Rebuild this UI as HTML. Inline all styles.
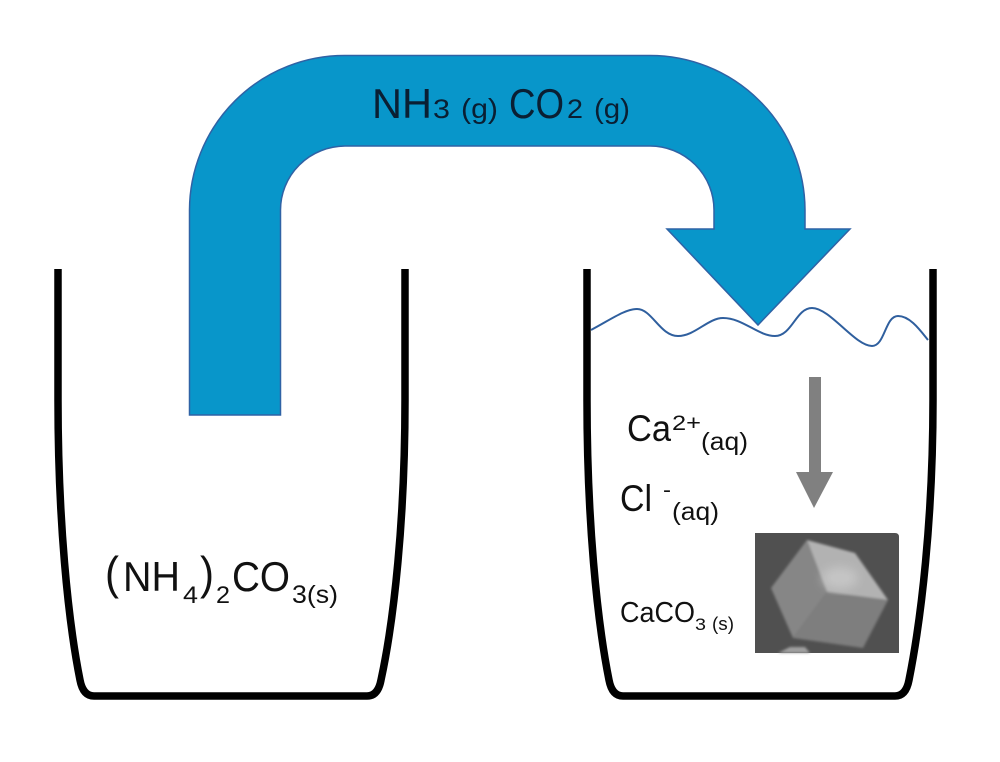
<!DOCTYPE html>
<html><head><meta charset="utf-8"><style>
html,body{margin:0;padding:0;background:#fff;width:1000px;height:762px;overflow:hidden}
svg{display:block}
text{font-family:"Liberation Sans",sans-serif;fill:#111}
</style></head><body>
<svg width="1000" height="762" viewBox="0 0 1000 762" xmlns="http://www.w3.org/2000/svg">
<defs>
<filter id="b" x="-5%" y="-5%" width="110%" height="110%"><feGaussianBlur stdDeviation="1.3"/></filter>
<filter id="b2" x="-30%" y="-30%" width="160%" height="160%"><feGaussianBlur stdDeviation="5"/></filter>
</defs>
<!-- beakers -->
<path d="M58 269 V400 C58 520 68 620 80 680 Q83 696 94 696 H367 Q378 696 381 680 C394 620 405 520 405 400 V269" fill="none" stroke="#000" stroke-width="7.500"/>
<path d="M587 269 V400 C587 520 597 620 609 680 Q612 696 623 696 H895 Q906 696 909 680 C921 620 933 520 933 400 V269" fill="none" stroke="#000" stroke-width="7.500"/>
<!-- wave -->
<path d="M591 330 C610 320 625 309 637 309 C652 309 660 336 678 336 C695 336 708 318 723 318 C743 318 758 336 775 336 C792 336 796 308 812 308 C830 308 855 346 872 346 C885 346 885 316 898 316 C910 316 920 330 928 340" fill="none" stroke="#2f5f9e" stroke-width="2"/>
<!-- big arrow -->
<path d="M189.500 415 V210 A155 155 0 0 1 345 55.500 H650 A155 155 0 0 1 805 210 V229 H850 L758 325 L667 229 H714 V210 A64 64 0 0 0 650 146 H345 A65 64 0 0 0 280.500 210 V415 Z" fill="#0896ca" stroke="#2f62a5" stroke-width="1.500"/>
<!-- grey arrow -->
<path d="M809 377 H821 V472 H833 L814 508 L796 472 H809 Z" fill="#808080"/>
<!-- crystal -->
<path d="M755 533 H895 Q899 533 899 537 V653 H755 Z" fill="#505050"/>
<g filter="url(#b)">
<polygon points="807,540 855,553 888,600 827,592" fill="#b2b2b2"/>
<polygon points="807,540 827,592 793,638 771,588" fill="#868686"/>
<polygon points="827,592 888,600 863,648 793,638" fill="#7e7e7e"/>
<polygon points="778,653 790,647 805,647 810,653" fill="#a0a0a0"/>
</g>
<ellipse cx="840" cy="578" rx="18" ry="11" fill="#cdcdcd" opacity=".7" filter="url(#b2)"/>
<!-- labels -->
<text x="372" y="118" font-size="42" textLength="60" lengthAdjust="spacingAndGlyphs" style="fill:#0a1f33">NH</text>
<text x="433" y="118" font-size="27" textLength="17" lengthAdjust="spacingAndGlyphs" style="fill:#0a1f33">3</text>
<text x="461" y="118" font-size="28" textLength="37" lengthAdjust="spacingAndGlyphs" style="fill:#0a1f33">(g)</text>
<text x="509" y="118" font-size="42" textLength="55" lengthAdjust="spacingAndGlyphs" style="fill:#0a1f33">CO</text>
<text x="567" y="118" font-size="27" textLength="16" lengthAdjust="spacingAndGlyphs" style="fill:#0a1f33">2</text>
<text x="594" y="118" font-size="28" textLength="36" lengthAdjust="spacingAndGlyphs" style="fill:#0a1f33">(g)</text>

<text x="105" y="589" font-size="46" textLength="14" lengthAdjust="spacingAndGlyphs">(</text>
<text x="123" y="591" font-size="42" textLength="57" lengthAdjust="spacingAndGlyphs">NH</text>
<text x="183" y="603" font-size="24" textLength="15" lengthAdjust="spacingAndGlyphs">4</text>
<text x="200" y="589" font-size="46" textLength="14" lengthAdjust="spacingAndGlyphs">)</text>
<text x="216" y="603" font-size="24" textLength="14" lengthAdjust="spacingAndGlyphs">2</text>
<text x="232" y="591" font-size="42" textLength="58" lengthAdjust="spacingAndGlyphs">CO</text>
<text x="292" y="603" font-size="25" textLength="46" lengthAdjust="spacingAndGlyphs">3(s)</text>

<text x="627" y="441" font-size="37" textLength="44" lengthAdjust="spacingAndGlyphs">Ca</text>
<text x="672" y="430" font-size="21" textLength="29" lengthAdjust="spacingAndGlyphs">2+</text>
<text x="701" y="450" font-size="25" textLength="47" lengthAdjust="spacingAndGlyphs">(aq)</text>

<text x="620" y="511" font-size="37" textLength="32" lengthAdjust="spacingAndGlyphs">Cl</text>
<text x="663" y="497" font-size="21" textLength="8" lengthAdjust="spacingAndGlyphs">-</text>
<text x="672" y="520" font-size="25" textLength="47" lengthAdjust="spacingAndGlyphs">(aq)</text>

<text x="620" y="622" font-size="29" textLength="75" lengthAdjust="spacingAndGlyphs">CaCO</text>
<text x="695" y="630" font-size="17" textLength="11" lengthAdjust="spacingAndGlyphs">3</text>
<text x="712" y="630" font-size="18" textLength="22" lengthAdjust="spacingAndGlyphs">(s)</text>
</svg>
</body></html>
